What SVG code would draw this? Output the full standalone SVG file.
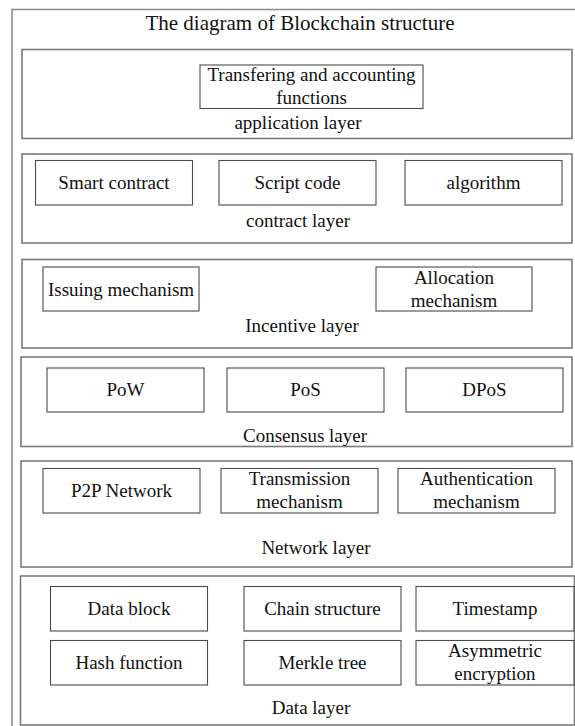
<svg xmlns="http://www.w3.org/2000/svg" width="575" height="726" viewBox="0 0 575 726">
<style>
text{font-family:'Liberation Serif','Times New Roman',Tinos,'DejaVu Serif',serif;font-size:19px;fill:#111;text-anchor:middle}
.title{font-size:21px}
.frame{fill:none;stroke:#8a8a8a;stroke-width:1.6}
.layer{fill:#fff;stroke:#7a7a7a;stroke-width:1.6}
.box{fill:#fff;stroke:#4a4a4a;stroke-width:1.1}
</style>
<rect width="575" height="726" fill="#fff"/>
<path class="frame" d="M12,726 V9.5 H576"/>
<text class="title" x="300" y="30">The diagram of Blockchain structure</text>

<g id="application-layer">
<rect class="layer" x="22" y="49.5" width="550" height="89"/>
<text x="298" y="129">application layer</text>
</g>
<g id="transfering">
<rect class="box" x="200" y="65" width="223" height="43.5"/>
<text x="311.5" y="81">Transfering and accounting</text>
<text x="311.5" y="104">functions</text>
</g>

<g id="contract-layer">
<rect class="layer" x="22" y="154" width="550" height="89"/>
<text x="298" y="227">contract layer</text>
</g>
<g id="smart-contract"><rect class="box" x="35.5" y="160.5" width="157" height="44.5"/><text x="114" y="189">Smart contract</text></g>
<g id="script-code"><rect class="box" x="219" y="160.5" width="157" height="44.5"/><text x="297.5" y="189">Script code</text></g>
<g id="algorithm"><rect class="box" x="405" y="160.5" width="157" height="44.5"/><text x="483.5" y="189">algorithm</text></g>

<g id="incentive-layer">
<rect class="layer" x="22" y="259.5" width="550" height="88.5"/>
<text x="302" y="332">Incentive layer</text>
</g>
<g id="issuing"><rect class="box" x="43" y="267" width="156" height="44"/><text x="121" y="296">Issuing mechanism</text></g>
<g id="allocation"><rect class="box" x="376" y="267" width="156" height="44"/><text x="454" y="284">Allocation</text><text x="454" y="307">mechanism</text></g>

<g id="consensus-layer">
<rect class="layer" x="21" y="357" width="551" height="89.5"/>
<text x="305" y="442">Consensus layer</text>
</g>
<g id="pow"><rect class="box" x="47" y="368" width="157" height="44"/><text x="125.5" y="396">PoW</text></g>
<g id="pos"><rect class="box" x="227" y="368" width="157" height="44"/><text x="305.5" y="396">PoS</text></g>
<g id="dpos"><rect class="box" x="406" y="368" width="157" height="44"/><text x="484.5" y="396">DPoS</text></g>

<g id="network-layer">
<rect class="layer" x="21" y="461" width="551" height="106"/>
<text x="316" y="554">Network layer</text>
</g>
<g id="p2p"><rect class="box" x="43" y="468.5" width="157" height="44.5"/><text x="121.5" y="497">P2P Network</text></g>
<g id="transmission"><rect class="box" x="221" y="468.5" width="157" height="44.5"/><text x="299.5" y="485">Transmission</text><text x="299.5" y="508">mechanism</text></g>
<g id="authentication"><rect class="box" x="398" y="468.5" width="157" height="44.5"/><text x="476.5" y="485">Authentication</text><text x="476.5" y="508">mechanism</text></g>

<g id="data-layer">
<rect class="layer" x="20.5" y="576" width="554" height="149"/>
<text x="311" y="714">Data layer</text>
</g>
<g id="data-block"><rect class="box" x="50.5" y="586.5" width="157" height="44.5"/><text x="129" y="615">Data block</text></g>
<g id="chain-structure"><rect class="box" x="244" y="586.5" width="157" height="44.5"/><text x="322.5" y="615">Chain structure</text></g>
<g id="timestamp"><rect class="box" x="416" y="586.5" width="158" height="44.5"/><text x="495" y="615">Timestamp</text></g>
<g id="hash-function"><rect class="box" x="50.5" y="640.5" width="157" height="44.5"/><text x="129" y="669">Hash function</text></g>
<g id="merkle-tree"><rect class="box" x="244" y="640.5" width="157" height="44.5"/><text x="322.5" y="669">Merkle tree</text></g>
<g id="asymmetric"><rect class="box" x="416" y="640.5" width="158" height="44.5"/><text x="495" y="657">Asymmetric</text><text x="495" y="680">encryption</text></g>

<g id="connectors"></g>
</svg>
